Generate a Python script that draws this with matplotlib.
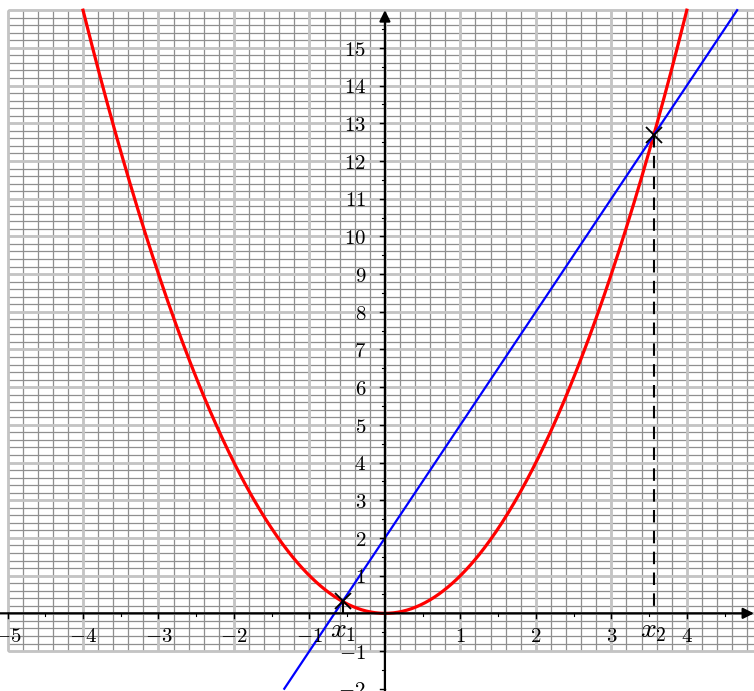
import numpy as np
from matplotlib import pyplot as plt

plt.rcParams['mathtext.fontset'] = 'cm'
plt.rcParams['font.family'] = 'DejaVu Serif'

# courbes : parabole y = x^2 et droite y = 3x + 2
parab_coef = 1.0
line_slope, line_icpt = 3.0, 2.0
y_top = 16  # les courbes s'arretent a y = 16
y_bottom = -2

x_ticks = [-5, -4, -3, -2, -1, 1, 2, 3, 4]
y_ticks = [-2, -1, 1, 2, 3, 4, 5, 6, 7, 8, 9, 10, 11, 12, 13, 14, 15]

# intersections x^2 = 3x + 2
disc = line_slope ** 2 + 4 * parab_coef * line_icpt
x1 = (line_slope - np.sqrt(disc)) / (2 * parab_coef)
x2 = (line_slope + np.sqrt(disc)) / (2 * parab_coef)

fig = plt.figure(figsize=(7.54, 6.91), dpi=100)
ax = fig.add_axes([0, 0, 1, 1])
ax.set_xlim(-5.1, 4.89)
ax.set_ylim(-2.06, 16.27)
ax.axis('off')

# quadrillage
gx0, gx1, gy0, gy1 = -5, 5, -1, 16
minor_x = np.arange(gx0, gx1 + 0.01, 0.2)
minor_y = np.arange(gy0, gy1 + 0.01, 0.2)
ax.vlines(minor_x, gy0, gy1, colors='#8f8f8f', lw=0.9, zorder=1)
ax.hlines(minor_y, gx0, gx1, colors='#8f8f8f', lw=0.9, zorder=1)
ax.vlines(np.arange(gx0, gx1 + 0.01, 1), gy0, gy1, colors='#c4c4c4', lw=2.0, zorder=1)
ax.hlines(np.arange(gy0, gy1 + 0.01, 1), gx0, gx1, colors='#c4c4c4', lw=2.0, zorder=1)

# axes avec fleches
ax.annotate('', xy=(4.89, 0), xytext=(-5.1, 0),
            arrowprops=dict(arrowstyle='-|>', color='black', lw=1.6,
                            mutation_scale=16, shrinkA=0, shrinkB=0), zorder=5)
ax.annotate('', xy=(0, 16.0), xytext=(0, -2.1),
            arrowprops=dict(arrowstyle='-|>', color='black', lw=1.6,
                            mutation_scale=16, shrinkA=0, shrinkB=0), zorder=5)

# graduations
for k in np.arange(-5, 5, 1):
    ax.plot([k, k], [0, -0.13], color='black', lw=1.0, zorder=5)
for k in np.arange(-4.5, 5, 1):
    ax.plot([k, k], [0, -0.08], color='black', lw=0.8, zorder=5)
for k in np.arange(-2, 16, 1):
    ax.plot([0, -0.07], [k, k], color='black', lw=1.0, zorder=5)
for k in np.arange(-1.5, 16, 1):
    ax.plot([0, -0.045], [k, k], color='black', lw=0.8, zorder=5)

for k in x_ticks:
    ax.text(k, -0.36, '$%d$' % k, ha='center', va='top', fontsize=15, zorder=6)
for k in y_ticks:
    ax.text(-0.25, k - 0.06, '$%d$' % k, ha='right', va='center', fontsize=15, zorder=6)

# parabole
xp = np.linspace(-np.sqrt(y_top / parab_coef), np.sqrt(y_top / parab_coef), 400)
ax.plot(xp, parab_coef * xp ** 2, color='red', lw=2.3, zorder=4)

# droite
xl = np.array([(y_bottom - line_icpt) / line_slope, (y_top - line_icpt) / line_slope])
ax.plot(xl, line_slope * xl + line_icpt, color='blue', lw=1.6, zorder=4)

# points d'intersection
for xi in (x1, x2):
    yi = line_slope * xi + line_icpt
    ax.plot([xi, xi], [yi, 0], color='black', lw=1.5, ls=(0, (6, 4)), zorder=4)
    ax.plot(xi, yi, marker='x', color='black', ms=11, mew=1.3, zorder=6)

ax.text(x1, -0.45, '$x_1$', ha='center', va='center', fontsize=20, zorder=7)
ax.text(x2, -0.45, '$x_2$', ha='center', va='center', fontsize=20, zorder=7)

plt.savefig('out.png', dpi=100)
